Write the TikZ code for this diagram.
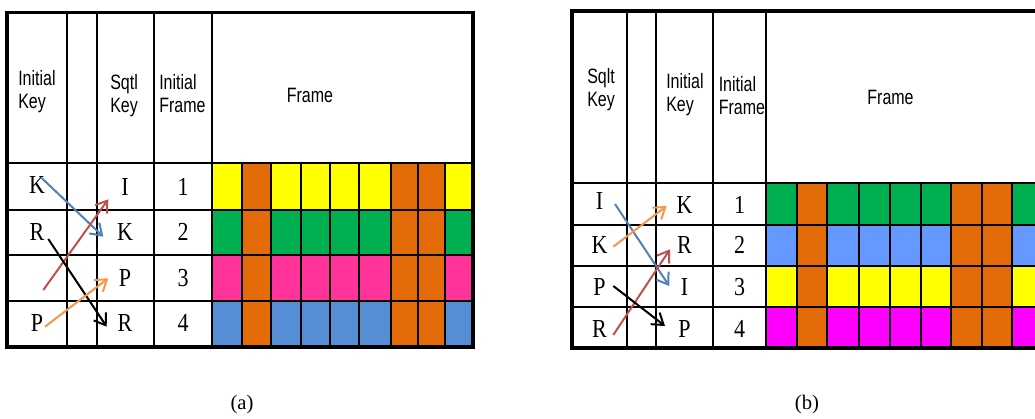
\documentclass[tikz,border=0pt]{standalone}
\usepackage{fontspec}
\setmainfont{Liberation Serif}
\newfontfamily\arialf{Liberation Sans}
\usetikzlibrary{arrows.meta}
\definecolor{cy}{HTML}{FFFF00}
\definecolor{co}{HTML}{E36C09}
\definecolor{cg}{HTML}{00B050}
\definecolor{cp}{HTML}{FF3399}
\definecolor{cba}{HTML}{558ED5}
\definecolor{cbb}{HTML}{6699FF}
\definecolor{cmag}{HTML}{FF00FF}
\definecolor{ablue}{HTML}{4F81BD}
\definecolor{ared}{HTML}{C0504D}
\definecolor{aorange}{HTML}{F79646}
\newcommand{\hsx}[1]{\scalebox{1}[1.3]{#1}}
\newcommand{\vsx}[1]{\scalebox{1}[1.18]{#1}}
\tikzset{
  hdr/.style={font=\arialf\fontsize{12}{17.25}\selectfont, align=left, anchor=west, inner sep=0pt},
  frm/.style={font=\arialf\fontsize{12}{17.25}\selectfont, inner sep=0pt},
  cell/.style={font=\fontsize{16.5}{18}\selectfont, inner sep=0pt},
  captext/.style={font=\fontsize{15.5}{18}\selectfont, inner sep=0pt},
  grid/.style={line width=2.1pt, line cap=rect},
  outer/.style={line width=2.4pt},
  arr/.style={line width=1.5pt, -{Straight Barb[length=8pt,width=11pt,line width=1.5pt]}},
}
\begin{document}
\begin{tikzpicture}[x=0.75pt,y=-0.75pt]
\clip (0,0) rectangle (1035,418);
\fill[white] (0,0) rectangle (1035,418);

% ---------------- (a) ----------------
\foreach \col/\ya/\yb in {cy/163/210, cg/210/255, cp/255/301, cba/301/347}{
  \foreach \xa/\xb/\o in {212/242/0, 242/271/1, 271/301/0, 301/330/0, 330/359/0, 359/391/0, 391/418/1, 418/445/1, 445/473/0}{
    \ifnum\o=1 \def\cc{co}\else\def\cc{\col}\fi
    \fill[\cc] (\xa,\ya) rectangle (\xb,\yb);
  }
}
\foreach \x in {67,97,154,212}{ \draw[grid] (\x,12.7) -- (\x,347); }
\foreach \y in {163,210,255,301}{ \draw[grid] (7,\y) -- (473,\y); }
\foreach \x in {242,271,301,330,359,391,418,445}{ \draw[grid] (\x,163) -- (\x,347); }
\draw[outer] (7,12.7) rectangle (473,347);

\node[hdr] (ha1) at (18,92) {\hsx{Initial}\\\hsx{Key}};
\node[hdr] (ha2) at (110,96) {\hsx{Sqtl}\\\hsx{Key}};
\node[hdr] (ha3) at (159,94) {\hsx{Initial}\\\hsx{Frame}};
\node[frm] (ha4) at (310,95) {\hsx{Frame}};

\node[cell] (aK) at (37,185) {\vsx{K}};
\node[cell] (aR) at (37,232) {\vsx{R}};
\node[cell] (aP) at (37,323) {\vsx{P}};
\node[cell] (bI) at (125,187) {\vsx{I}};
\node[cell] (bK) at (125,232) {\vsx{K}};
\node[cell] (bP) at (125,278) {\vsx{P}};
\node[cell] (bR) at (125,323) {\vsx{R}};
\node[cell] (n1) at (183,187) {\vsx{1}};
\node[cell] (n2) at (183,232) {\vsx{2}};
\node[cell] (n3) at (183,278) {\vsx{3}};
\node[cell] (n4) at (183,323) {\vsx{4}};

\coordinate (a1s) at (41.7,178);   \coordinate (a1e) at (103.3,236.7);
\coordinate (a2s) at (43.3,290);   \coordinate (a2e) at (108.3,199.3);
\coordinate (a3s) at (48.3,239);   \coordinate (a3e) at (106.7,326.7);
\coordinate (a4s) at (45,326.7);   \coordinate (a4e) at (108.3,278.3);
\draw[arr, ablue] (a1s) -- (a1e);
\draw[arr, ared] (a2s) -- (a2e);
\draw[arr, black] (a3s) -- (a3e);
\draw[arr, aorange] (a4s) -- (a4e);

% ---------------- (b) ----------------
\foreach \col/\ya/\yb in {cg/183/225, cbb/225/266, cy/266/307, cmag/307/348}{
  \foreach \xa/\xb/\o in {766/797/0, 797/827/1, 827/859/0, 859/890/0, 890/921/0, 921/951/0, 951/982/1, 982/1012/1, 1012/1045/0}{
    \ifnum\o=1 \def\cc{co}\else\def\cc{\col}\fi
    \fill[\cc] (\xa,\ya) rectangle (\xb,\yb);
  }
}
\foreach \x in {627,656,713,766}{ \draw[grid] (\x,11) -- (\x,348); }
\foreach \y in {183,225,266,307}{ \draw[grid] (572,\y) -- (1045,\y); }
\foreach \x in {797,827,859,890,921,951,982,1012}{ \draw[grid] (\x,183) -- (\x,348); }
\draw[outer] (1045,11) -- (572,11) -- (572,348) -- (1045,348);

\node[hdr] (hb1) at (587,90) {\hsx{Sqlt}\\\hsx{Key}};
\node[hdr] (hb2) at (666,95) {\hsx{Initial}\\\hsx{Key}};
\node[hdr] (hb3) at (718.5,95.5) {\hsx{Initial}\\\hsx{Frame}};
\node[frm] (hb4) at (890.5,97.5) {\hsx{Frame}};

\node[cell] (cI) at (599.5,201) {\vsx{I}};
\node[cell] (cK) at (599.5,245) {\vsx{K}};
\node[cell] (cP) at (599.5,287) {\vsx{P}};
\node[cell] (cR) at (599.5,329) {\vsx{R}};
\node[cell] (dK) at (684.5,205) {\vsx{K}};
\node[cell] (dR) at (684.5,245) {\vsx{R}};
\node[cell] (dI) at (684.5,287) {\vsx{I}};
\node[cell] (dP) at (684.5,329) {\vsx{P}};
\node[cell] (m1) at (739.5,205) {\vsx{1}};
\node[cell] (m2) at (739.5,245) {\vsx{2}};
\node[cell] (m3) at (739.5,287) {\vsx{3}};
\node[cell] (m4) at (739.5,329) {\vsx{4}};

\coordinate (b1s) at (615,204);    \coordinate (b1e) at (669.3,286);
\coordinate (b2s) at (613.3,246.7);\coordinate (b2e) at (666.7,206);
\coordinate (b3s) at (613.3,335);  \coordinate (b3e) at (670,249.3);
\coordinate (b4s) at (613.3,286);  \coordinate (b4e) at (665,326);
\draw[arr, ablue] (b1s) -- (b1e);
\draw[arr, aorange] (b2s) -- (b2e);
\draw[arr, ared] (b3s) -- (b3e);
\draw[arr, black] (b4s) -- (b4e);

\node[captext] (capa) at (242,405) {(a)};
\node[captext] (capb) at (807,405) {(b)};
\end{tikzpicture}
\end{document}
